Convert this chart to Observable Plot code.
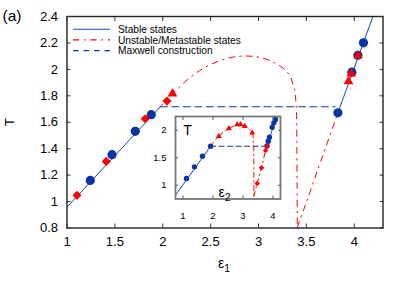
<!DOCTYPE html>
<html><head><meta charset="utf-8">
<script src="https://cdn.jsdelivr.net/npm/d3@7"></script>
<script src="https://cdn.jsdelivr.net/npm/@observablehq/plot@0.6"></script>
<style>
body{margin:0;background:#fff;}
#wrap{position:relative;width:407px;height:285px;overflow:hidden;background:#fff}
#wrap svg{position:absolute}
.lab{position:absolute;font-family:"Liberation Sans",Arial,sans-serif;color:#000;line-height:1;white-space:nowrap}
.lab sub{font-size:0.75em;vertical-align:-0.35em;line-height:0}
</style></head><body><div id="wrap"></div>
<script>
// ---------- main panel data ----------
const xTicks = [1, 1.5, 2, 2.5, 3, 3.5, 4];
const yTicks = [0.8, 1, 1.2, 1.4, 1.6, 1.8, 2, 2.2, 2.4];

const stableLeftE = [1.0, 1.975];
const stableLeftT = [0.958, 1.717];
const stableRightE = [3.82, 4.215];
const stableRightT = [1.654, 2.44];
const maxwellE = [1.975, 3.80];
const maxwellT = [1.717, 1.717];
const arcE = [1.96, 2.10, 2.29, 2.48, 2.70, 2.91, 3.12, 3.30, 3.365, 3.392, 3.40, 3.403, 3.405];
const arcT = [1.706, 1.812, 1.941, 2.030, 2.088, 2.100, 2.067, 1.979, 1.878, 1.74, 1.45, 1.10, 0.805];
const branchE = [3.405, 3.50, 3.65, 3.83];
const branchT = [0.805, 0.995, 1.305, 1.672];

const circleE = [1.243, 1.47, 1.713, 1.88, 3.829, 3.975, 4.038, 4.096];
const circleT = [1.16, 1.355, 1.531, 1.657, 1.672, 1.979, 2.107, 2.201];
const diamondE = [1.104, 1.41, 1.817, 2.044];
const diamondT = [1.047, 1.304, 1.627, 1.76];
const triangleE = [2.102, 3.94, 3.968, 4.038];
const triangleT = [1.816, 1.909, 1.967, 2.105];

// ---------- inset data ----------
const insXTicks = [1, 2, 3, 4];
const insYTicks = [1, 1.5, 2];
const insStableLeftE = [0.75, 1.92];
const insStableLeftT = [0.82, 1.71];
const insStableRightE = [3.80, 4.13];
const insStableRightT = [1.715, 2.27];
const insMaxwellE = [1.92, 3.80];
const insMaxwellT = [1.71, 1.71];
const insArcE = [1.92, 2.19, 2.52, 2.86, 3.10, 3.30, 3.35, 3.36, 3.362];
const insArcT = [1.71, 1.89, 2.03, 2.10, 2.07, 1.955, 1.78, 1.40, 0.80];
const insBranchE = [3.362, 3.473, 3.617, 3.75, 3.81];
const insBranchT = [0.80, 1.032, 1.317, 1.632, 1.72];
const insCircleE = [1.117, 1.383, 1.65, 1.92, 3.80, 3.84, 3.883, 3.973, 4.027, 4.083];
const insCircleT = [1.123, 1.335, 1.528, 1.71, 1.715, 1.801, 1.874, 2.055, 2.135, 2.195];
const insTriangleE = [2.193, 2.527, 2.807, 2.917, 3.06, 3.307];
const insTriangleT = [1.892, 2.032, 2.105, 2.105, 2.074, 1.954];
const insDiamondE = [3.473, 3.617, 3.75, 3.807];
const insDiamondT = [1.032, 1.317, 1.632, 1.71];

const legendLabels = ["Stable states", "Unstable/Metastable states", "Maxwell construction"];

// ---------- styling ----------
const BLUE_LINE = "#1c46bd";
const BLUE_DOT = "#0a33a6";
const BLUE_DASH = "#0a36b0";
const RED = "#ff0000";
const FONT = "Liberation Sans, Arial, sans-serif";
const DASHDOT = "6,5,1.5,5";
const fmt = d3.format("~g");
const rows = (E, T) => E.map((e, i) => ({e, T: T[i]}));

const wrap = document.getElementById("wrap");

const main = Plot.plot({
  width: 407, height: 285,
  marginLeft: 66.5, marginRight: 24.5, marginTop: 16, marginBottom: 57.5,
  style: {fontFamily: FONT, fontSize: "13px", background: "transparent", color: "#000", overflow: "visible"},
  x: {domain: [1, 4.3]},
  y: {domain: [0.8, 2.4]},
  marks: [
    Plot.line(rows(maxwellE, maxwellT), {x: "e", y: "T", stroke: BLUE_DASH, strokeWidth: 1.1, strokeDasharray: "7,4.5"}),
    Plot.line(rows(arcE, arcT), {x: "e", y: "T", curve: "catmull-rom", stroke: RED, strokeWidth: 1, strokeDasharray: DASHDOT}),
    Plot.line(rows(branchE, branchT), {x: "e", y: "T", stroke: RED, strokeWidth: 1, strokeDasharray: DASHDOT}),
    Plot.line(rows(stableLeftE, stableLeftT), {x: "e", y: "T", stroke: BLUE_LINE, strokeWidth: 1}),
    Plot.line(rows(stableRightE, stableRightT), {x: "e", y: "T", stroke: BLUE_LINE, strokeWidth: 1, clip: true}),
    Plot.dot(rows(circleE, circleT), {x: "e", y: "T", r: 4.6, fill: BLUE_DOT, symbol: "circle"}),
    Plot.dot(rows(diamondE, diamondT), {x: "e", y: "T", r: 4.1, fill: RED, symbol: "diamond2"}),
    Plot.dot(rows(triangleE, triangleT), {x: "e", y: "T", r: 3.6, fill: RED, symbol: "triangle"}),
    Plot.frame({stroke: "#222", strokeWidth: 1.4}),
    Plot.axisX(xTicks, {anchor: "bottom", tickSize: 0, tickPadding: 9, tickFormat: fmt, label: null, fontSize: 13}),
    Plot.axisX(xTicks, {anchor: "bottom", tickSize: -4, fill: "none", label: null, stroke: "#333"}),
    Plot.axisX(xTicks, {anchor: "top", tickSize: -4, fill: "none", label: null, stroke: "#333"}),
    Plot.axisY(yTicks, {anchor: "left", tickSize: 0, tickPadding: 9, tickFormat: fmt, label: null, fontSize: 13}),
    Plot.axisY(yTicks, {anchor: "left", tickSize: -4, fill: "none", label: null, stroke: "#333"}),
    Plot.axisY(yTicks, {anchor: "right", tickSize: -4, fill: "none", label: null, stroke: "#333"})
  ]
});
main.style.left = "0px"; main.style.top = "0px";
wrap.appendChild(main);

const inset = Plot.plot({
  width: 135, height: 125,
  marginLeft: 25, marginRight: 5, marginTop: 10, marginBottom: 32.5,
  style: {fontFamily: FONT, fontSize: "9.5px", background: "transparent", color: "#000", overflow: "visible"},
  x: {domain: [0.75, 4.25]},
  y: {domain: [0.75, 2.25]},
  marks: [
    Plot.frame({fill: "white", stroke: "none"}),
    Plot.line(rows(insMaxwellE, insMaxwellT), {x: "e", y: "T", stroke: BLUE_DASH, strokeWidth: 1.1, strokeDasharray: "5,3.5"}),
    Plot.line(rows(insArcE, insArcT), {x: "e", y: "T", curve: "catmull-rom", stroke: RED, strokeWidth: 1, strokeDasharray: "5,3.5,1.2,3.5"}),
    Plot.line(rows(insBranchE, insBranchT), {x: "e", y: "T", stroke: RED, strokeWidth: 1, strokeDasharray: "5,3.5,1.2,3.5"}),
    Plot.line(rows(insStableLeftE, insStableLeftT), {x: "e", y: "T", stroke: BLUE_LINE, strokeWidth: 1}),
    Plot.line(rows(insStableRightE, insStableRightT), {x: "e", y: "T", stroke: BLUE_LINE, strokeWidth: 1, clip: true}),
    Plot.dot(rows(insCircleE, insCircleT), {x: "e", y: "T", r: 2.7, fill: BLUE_DOT}),
    Plot.dot(rows(insDiamondE, insDiamondT), {x: "e", y: "T", r: 2.5, fill: RED, symbol: "diamond2"}),
    Plot.dot(rows(insTriangleE, insTriangleT), {x: "e", y: "T", r: 2.2, fill: RED, symbol: "triangle"}),
    Plot.frame({stroke: "#777", strokeWidth: 1.8}),
    Plot.axisX(insXTicks, {anchor: "bottom", tickSize: 0, tickPadding: 13, tickFormat: fmt, label: null, fontSize: 9.5}),
    Plot.axisX(insXTicks, {anchor: "bottom", tickSize: -3, fill: "none", label: null, stroke: "#555"}),
    Plot.axisX(insXTicks, {anchor: "top", tickSize: -3, fill: "none", label: null, stroke: "#555"}),
    Plot.axisY(insYTicks, {anchor: "left", tickSize: 0, tickPadding: 9, tickFormat: fmt, label: null, fontSize: 9.5}),
    Plot.axisY(insYTicks, {anchor: "left", tickSize: -3, fill: "none", label: null, stroke: "#555"}),
    Plot.axisY(insYTicks, {anchor: "right", tickSize: -3, fill: "none", label: null, stroke: "#555"})
  ]
});
inset.style.left = "150px"; inset.style.top = "106px";
wrap.appendChild(inset);

// ---------- legend (inside the main frame, top-left) ----------
const leg = d3.create("svg").attr("width", 407).attr("height", 285)
  .style("left", "0px").style("top", "0px").style("pointer-events", "none");
const legStyles = [
  {stroke: BLUE_LINE, dash: null},
  {stroke: RED, dash: DASHDOT},
  {stroke: BLUE_DASH, dash: "5.5,5"}
];
const legY = [29.3, 39.9, 50.6];
legendLabels.forEach((t, i) => {
  leg.append("line").attr("x1", 73).attr("x2", 110).attr("y1", legY[i]).attr("y2", legY[i])
    .attr("stroke", legStyles[i].stroke).attr("stroke-width", 1.1)
    .attr("stroke-dasharray", legStyles[i].dash);
  leg.append("text").attr("x", 118).attr("y", legY[i] + 3.6)
    .attr("font-family", FONT).attr("font-size", 10.2).attr("fill", "#000").text(t);
});
wrap.appendChild(leg.node());

// ---------- text labels ----------
function label(html, x, y, size, rot) {
  const d = document.createElement("div");
  d.className = "lab";
  d.innerHTML = html;
  d.style.fontSize = size + "px";
  d.style.left = x + "px"; d.style.top = y + "px";
  d.style.transform = "translate(-50%,-50%)" + (rot ? " rotate(" + rot + "deg)" : "");
  wrap.appendChild(d);
}
label("(a)", 12, 16, 15.5);
label("T", 10, 122, 13.5, -90);
label("ε<sub>1</sub>", 224, 263, 14);
label("T", 187.5, 129.5, 14);
label("ε<sub>2</sub>", 224.5, 192, 14);
</script>
</body></html>
